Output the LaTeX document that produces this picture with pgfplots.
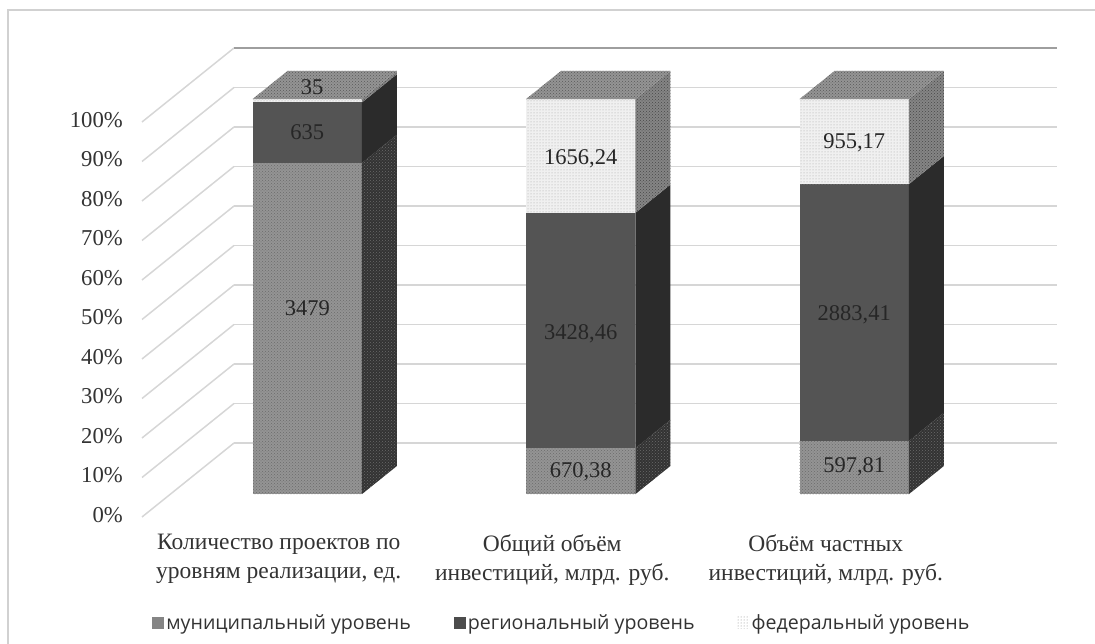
\documentclass[border=0pt]{standalone}
\usepackage{fontspec}
\setmainfont{Liberation Serif}
\newfontfamily\legfont{Open Sans}
\usepackage{pgfplots}
\pgfplotsset{compat=1.18}
\usetikzlibrary{patterns}
\definecolor{txt}{HTML}{333333}
\definecolor{gridc}{HTML}{D6D6D6}
\tikzset{
 mfront/.style={preaction={fill=black!42},pattern=crosshatch dots,pattern color=black!58},
 mside/.style={preaction={fill=black!80},pattern=crosshatch dots,pattern color=black!58},
 rfront/.style={fill=black!67},
 rside/.style={fill=black!83},
 ffront/.style={preaction={fill=black!6},pattern=dots,pattern color=black!35},
 fside/.style={preaction={fill=black!48},pattern=crosshatch dots,pattern color=black!72},
 ftop/.style={preaction={fill=black!42},pattern=crosshatch dots,pattern color=black!65},
}
\pgfplotsset{smallbox/.style={legend image code/.code={\fill[##1] (0pt,-6pt) rectangle (12pt,6pt);}}}
% one stacked segment: x left, x right, z bottom, z top, front style, side style
\newcommand{\seg}[6]{%
 \addplot3[forget plot,draw=none,#5] coordinates {(#1,0.31,#3)(#2,0.31,#3)(#2,0.31,#4)(#1,0.31,#4)} --cycle;
 \addplot3[forget plot,draw=none,#6] coordinates {(#2,0.31,#3)(#2,0.69,#3)(#2,0.69,#4)(#2,0.31,#4)} --cycle;
}
\newcommand{\topface}[3]{%
 \addplot3[forget plot,draw=none,ftop] coordinates {(#1,0.31,#3)(#2,0.31,#3)(#2,0.69,#3)(#1,0.69,#3)} --cycle;
}
\begin{document}
\begin{tikzpicture}
\path[use as bounding box] (0pt,0pt) rectangle (1095pt,644pt);
\draw[black!18,line width=1.2pt] (8pt,-2pt) -- (8pt,634pt) -- (1097pt,634pt);
\begin{axis}[
 at={(142pt,127pt)},anchor=south west,
 x={(273.5pt,0pt)},y={(92pt,74pt)},z={(0pt,3.95pt)},
 xmin=-0.5,xmax=2.51,ymin=0,ymax=1,zmin=0,zmax=100,
 clip=false,
 axis lines*=left,
 axis line style={draw=none},
 tick style={draw=none},
 ytick=\empty,
 xtick={0,1,2},
 xticklabels={{Количество проектов по\\уровням реализации, ед.},{Общий объём\\инвестиций, млрд. руб.},{Объём частных\\инвестиций, млрд. руб.}},
 ztick={0,10,...,100},
 zticklabels={0\%,10\%,20\%,30\%,40\%,50\%,60\%,70\%,80\%,90\%,100\%},
 zmajorgrids=true,
 major grid style={gridc,line width=1.5pt},
 xticklabel style={align=center,font=\fontsize{23.5}{29}\selectfont,text=txt,anchor=north,inner sep=0pt,yshift=-17pt},
 zticklabel style={font=\fontsize{22.7}{25}\selectfont,text=txt,anchor=east,inner sep=0pt,xshift=-19pt,yshift=2pt},
 legend columns=3,
 legend style={draw=none,fill=none,at={(axis cs:-0.474,0,-26.8)},anchor=west,font=\legfont\fontsize{19.6}{23}\selectfont,text=txt,
   /tikz/every even column/.append style={column sep=41pt}},
]
\addplot3[forget plot,black!38,line width=1.5pt] coordinates {(-0.5,1,100)(2.51,1,100)};
% bar 1: 3479 / 635 / 35 of 4149
\seg{-0.2}{0.2}{0}{83.85}{mfront}{mside}
\seg{-0.2}{0.2}{83.85}{99.16}{rfront}{rside}
\seg{-0.2}{0.2}{99.16}{100}{ffront}{fside}
\topface{-0.2}{0.2}{100}
% bar 2: 670,38 / 3428,46 / 1656,24 of 5755,08
\seg{0.8}{1.2}{0}{11.65}{mfront}{mside}
\seg{0.8}{1.2}{11.65}{71.22}{rfront}{rside}
\seg{0.8}{1.2}{71.22}{100}{ffront}{fside}
\topface{0.8}{1.2}{100}
% bar 3: 597,81 / 2883,41 / 955,17 of 4436,39
\seg{1.8}{2.2}{0}{13.48}{mfront}{mside}
\seg{1.8}{2.2}{13.48}{78.47}{rfront}{rside}
\seg{1.8}{2.2}{78.47}{100}{ffront}{fside}
\topface{1.8}{2.2}{100}
\addlegendimage{smallbox,draw=none,fill=black!48}\addlegendentry{муниципальный уровень}
\addlegendimage{smallbox,draw=none,fill=black!70}\addlegendentry{региональный уровень}
\addlegendimage{smallbox,draw=none,pattern=dots,pattern color=black!50}\addlegendentry{федеральный уровень}
\tikzset{lab/.style={font=\fontsize{22.5}{25}\selectfont,text=black!85,inner sep=0pt}}
\node[lab] at (axis cs:0,0.31,47.1) {3479};
\node[lab] at (axis cs:0,0.31,91.6) {635};
\node[lab] at (axis cs:-0.046,0.5,99.5) {35};
\node[lab] at (axis cs:1,0.31,5.65) {670,38};
\node[lab] at (axis cs:1,0.31,40.5) {3428,46};
\node[lab] at (axis cs:1,0.31,85) {1656,24};
\node[lab] at (axis cs:2,0.31,6.85) {597,81};
\node[lab] at (axis cs:2,0.31,45.5) {2883,41};
\node[lab] at (axis cs:2,0.31,89) {955,17};
\end{axis}
\end{tikzpicture}
\end{document}
